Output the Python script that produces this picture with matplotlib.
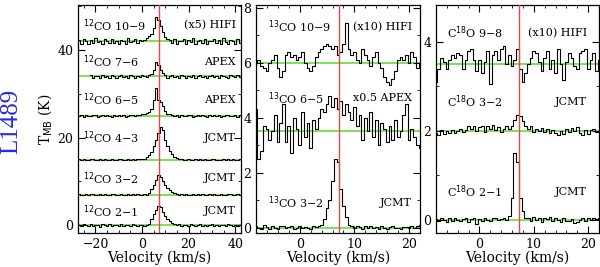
import numpy as np
import matplotlib
matplotlib.use('Agg')
import matplotlib.pyplot as plt
from matplotlib.ticker import MultipleLocator

plt.rcParams['font.family'] = 'DejaVu Serif'

v_lsr = 7.2

# ---- panel 1: 12CO, 1 km/s channels from -27 to 42 ----
vel_12co = np.arange(-27, 43, 1.0)
co_21 = [0.1, -0.2, 0.2, 0.0, -0.1, 0.3, -0.2, 0.1, 0.0, -0.3,
         0.2, 0.1, -0.1, 0.2, -0.2, 0.0, 0.1, -0.1, 0.2, -0.2,
         0.1, 0.0, -0.1, 0.2, 0.1, -0.2, 0.0, 0.1, -0.1, 0.1,
         0.3, 1.5, 2.5, 3.4, 4.4, 4.2, 3.0, 2.0, 1.4, 0.9,
         0.5, 0.3, 0.1, 0.2,
         -0.1, 0.1, 0.0, -0.2, 0.2, 0.1, -0.1, 0.0, 0.2, -0.2,
         0.1, -0.1, 0.0, 0.2, -0.1, 0.1, -0.2, 0.0, 0.1, -0.1,
         0.2, 0.0, -0.2, 0.1, -0.1, 0.1]
co_32 = [0.2, -0.1, 0.0, 0.1, -0.2, 0.1, 0.2, -0.1, 0.0, 0.1,
         -0.2, 0.2, 0.0, -0.1, 0.1, 0.2, -0.2, 0.0, 0.1, -0.1,
         0.0, 0.2, -0.1, 0.1, -0.2, 0.1, 0.0, -0.1, 0.2, 0.0,
         0.3, 1.2, 2.2, 3.3, 4.4, 4.0, 3.0, 2.1, 1.5, 1.0,
         0.6, 0.3, 0.2, 0.0,
         0.1, -0.1, 0.2, 0.0, -0.2, 0.1, 0.0, 0.2, -0.1, 0.1,
         -0.2, 0.0, 0.1, -0.1, 0.2, 0.0, -0.1, 0.1, 0.0, -0.2,
         0.1, 0.2, -0.1, 0.0, 0.1, -0.1]
co_43 = [0.1, -0.2, 0.2, 0.0, -0.1, 0.1, 0.2, -0.2, 0.0, 0.1,
         -0.1, 0.2, 0.0, -0.2, 0.1, 0.0, -0.1, 0.2, 0.1, -0.1,
         0.0, 0.2, -0.2, 0.1, 0.0, 0.1, 0.2, 0.1,
         0.2, 0.5, 1.0, 1.8, 3.0, 4.5, 6.0, 7.5, 6.8, 4.5,
         3.0, 2.0, 1.2, 0.7, 0.4, 0.2,
         0.1, 0.0, -0.1, 0.2, 0.0, -0.2, 0.1, 0.0, 0.2, -0.1,
         0.1, -0.2, 0.0, 0.1, 0.2, -0.1, 0.0, -0.2, 0.1, 0.0,
         0.2, -0.1, 0.1, 0.0, -0.2, 0.1]
co_65 = [0.0, 0.2, -0.2, 0.1, 0.0, -0.1, 0.2, 0.1, -0.2, 0.0,
         0.1, -0.1, 0.2, 0.0, -0.2, 0.1, 0.0, 0.2, -0.1, 0.1,
         -0.2, 0.0, 0.1, 0.2, -0.1, 0.1, 0.2,
         0.3, 0.4, 0.6, 0.9, 1.5, 3.5, 6.3, 3.6, 3.2, 2.2,
         1.0, 0.5, 0.3, 0.2,
         0.0, 0.1, -0.2, 0.2, 0.0, -0.1, 0.1, 0.2, -0.2, 0.0,
         0.1, -0.1, 0.2, 0.0, -0.2, 0.1, 0.0, 0.2, -0.1, 0.1,
         -0.2, 0.0, 0.2, 0.1, -0.1, 0.0, 0.2, -0.2, 0.1]
co_76 = [np.nan] * 5 + [
         0.3, -0.4, 0.2, 0.0, -0.3, 0.4, -0.2, 0.1, -0.4, 0.3,
         0.0, -0.3, 0.2, 0.4, -0.2, 0.0, -0.4, 0.3, 0.1, -0.3,
         0.2, -0.1, 0.4, 0.0, -0.2, 0.3,
         0.5, 1.5, 3.3, 2.5, 1.5, 0.8, 0.4,
         -0.3, 0.2, 0.4, -0.2, 0.0, -0.4, 0.3, 0.1, -0.3, 0.2,
         -0.1, 0.4, -0.4, 0.0, 0.3, -0.2, 0.2, -0.3, 0.1, 0.4,
         -0.2, 0.0, -0.4, 0.3, 0.2, -0.1, -0.3, 0.4, 0.0, -0.2,
         0.3, -0.1]
co_109 = [0.3, -0.5, 0.6, 0.0, -0.7, 0.4, -0.3, 0.7, -0.2, 0.1,
          -0.6, 0.5, 0.0, -0.4, 0.6, -0.3, 0.2, -0.6, 0.4, 0.1,
          -0.5, 0.7, -0.2, 0.0, 0.5, -0.4, 0.3, 0.1, 0.4,
          0.8, 1.2, 1.6, 3.0, 5.5, 4.8, 3.5, 2.2, 1.0, 0.5, 0.3,
          -0.4, 0.5, -0.6, 0.2, 0.0, 0.6, -0.5, 0.3, -0.2, 0.7,
          -0.6, 0.1, 0.4, -0.3, 0.5, -0.7, 0.2, 0.0, 0.6, -0.4,
          0.3, -0.5, 0.7, -0.1, -0.6, 0.4, 0.2, -0.5, 0.6, -0.3]
spec_12co = [co_21, co_32, co_43, co_65, co_76, co_109]
base_12co = [0, 7, 15, 25, 34, 42]
names_12co = ['2-1', '3-2', '4-3', '6-5', '7-6', '10-9']
tel_12co = ['JCMT', 'JCMT', 'JCMT', 'APEX', 'APEX', '(x5) HIFI']
laby_12co = [3.2, 10.7, 19.9, 28.6, 37.3, 45.7]

# ---- panel 2 and 3: 0.5 km/s channels from -8 to 22 ----
vel_iso = np.arange(-8, 22.25, 0.5)
c13_109 = [0.0, 0.1, -0.1, -0.2, -0.3, 0.0, 0.1, 0.3, -0.2, -0.5,
           -0.3, 0.3, 0.4, 0.2, 0.3, 0.1, 0.2, 0.4, 0.0, -0.2,
           -0.3, -0.1, 0.2, 0.4, 0.5, 0.6, 0.7, 0.6, 0.5, 0.6,
           0.3, 0.4, 0.7, 1.45, 0.5, 0.3, 0.4, 0.1, 0.0, 0.5,
           0.3, 0.1, -0.1, 0.2, 0.4, 0.0, -0.2, -0.5, -0.7, -0.8,
           -0.6, -0.3, 0.1, 0.2, 0.1, 0.3, 0.0, 0.4, 0.2, -0.2,
           0.0]
c13_65 = [0.8, -1.0, -0.7, 0.2, 0.1, -0.3, 0.0, 0.6, -0.4, 0.3,
          1.0, -0.4, 0.2, -0.8, 0.5, 0.1, -0.5, 0.7, -0.2, 0.3,
          -0.6, 0.4, 0.1, 0.5, 0.8, 0.7, 1.0, 1.3, 0.9, 1.2,
          0.8, 1.1, 0.6, 1.0, 0.7, 0.4, 0.9, 0.2, 0.6, -0.3,
          0.5, 0.0, 0.7, -0.2, 0.4, -0.5, 0.3, 0.1, -0.4, 0.2,
          -0.3, 0.4, -0.2, 0.0, 0.6, 1.0, -0.3, 0.1, -0.2, -0.5,
          -0.6]
c13_32 = [0.05, 0.0, -0.05, 0.08, 0.02, -0.04, 0.06, 0.0, -0.06, 0.04,
          0.07, -0.03, 0.02, 0.05, -0.05, 0.0, 0.06, -0.02, 0.03, 0.0,
          -0.04, 0.05, 0.02, 0.04,
          0.1, 0.3, 0.7, 1.0, 1.7, 2.5, 2.4, 1.4, 0.8, 0.4, 0.1,
          0.05, -0.03, 0.06, 0.02, -0.05, 0.04, 0.0, 0.07, -0.02, 0.03,
          -0.06, 0.05, 0.0, -0.04, 0.03, 0.06, -0.02, 0.0, -0.05, 0.03,
          0.02, -0.03, 0.04, 0.0, 0.06, 0.08]
spec_13co = [c13_32, c13_65, c13_109]
base_13co = [0, 3.5, 6.0]
names_13co = ['3-2', '6-5', '10-9']
tel_13co = ['JCMT', 'x0.5 APEX', '(x10) HIFI']
laby_13co = [0.9, 4.7, 7.3]

c18_98 = [-0.4, -0.1, 0.15, 0.05, -0.1, 0.1, 0.2, 0.15, 0.25, 0.2,
          -0.1, 0.1, 0.3, 0.35, 0.1, -0.15, 0.1, -0.2, 0.05, 0.3,
          -0.45, 0.2, 0.3, 0.1, 0.35, 0.4, 0.0, 0.2, -0.05, 0.1,
          0.35, -0.1, -0.4, -0.2, 0.0, 0.15, 0.3, 0.25, 0.05, -0.15,
          0.15, 0.3, -0.1, 0.1, -0.2, 0.35, 0.0, -0.35, 0.05, 0.25,
          0.15, -0.05, -0.1, 0.25, 0.3, 0.35, -0.1, 0.1, 0.25, -0.15,
          0.1]
c18_32 = [-0.05, -0.1, 0.02, -0.06, 0.0, -0.04, 0.03, -0.05, 0.0, 0.05,
          -0.03, 0.02, 0.1, 0.05, 0.12, 0.0, 0.08, 0.12, -0.02, 0.1,
          0.05, 0.13, 0.03, 0.08, -0.03, 0.05, 0.1, 0.04, 0.12, 0.25,
          0.35, 0.33, 0.22, 0.12, 0.05, 0.1, -0.02, 0.05, 0.0, 0.06,
          -0.03, 0.04, -0.05, 0.02, -0.04, -0.1, 0.0, -0.08, 0.05, -0.02,
          0.06, 0.0, 0.08, -0.04, -0.1, 0.03, -0.06, 0.02, 0.05, -0.03,
          0.0]
c18_21 = [0.02, -0.03, 0.04, 0.0, -0.04, 0.03, -0.02, 0.05, 0.0, -0.03,
          0.02, 0.04, -0.05, 0.01, 0.03, -0.1, 0.02, -0.02, 0.04, 0.0,
          -0.03, 0.03, 0.05, -0.01, 0.02, 0.04, 0.0,
          0.08, 0.5, 1.5, 1.3, 0.5, 0.2, 0.05,
          0.04, -0.02, 0.06, 0.0, 0.03, -0.04, 0.05, 0.02, 0.06, -0.02,
          0.04, 0.0, -0.05, 0.03, -0.03, -0.02, 0.02, -0.07, -0.04, 0.0,
          0.03, -0.02, 0.04, 0.0, 0.05, 0.02, 0.04]
spec_c18o = [c18_21, c18_32, c18_98]
base_c18o = [0, 2.0, 3.5]
names_c18o = ['2-1', '3-2', '9-8']
tel_c18o = ['JCMT', 'JCMT', '(x10) HIFI']
laby_c18o = [0.63, 2.65, 4.2]

green = '#6fe04a'
red = '#e8474a'
fs = 8.0

fig = plt.figure(figsize=(6.0, 2.67), dpi=100)
ax1 = fig.add_axes([0.130, 0.127, 0.2717, 0.854])
ax2 = fig.add_axes([0.4267, 0.127, 0.2733, 0.854])
ax3 = fig.add_axes([0.7267, 0.127, 0.2717, 0.854])


def draw_panel(ax, vel, spectra, bases, names, tels, laby, mol, xl, xr):
    for spec, b, name, tel, ly in zip(spectra, bases, names, tels, laby):
        ax.axhline(b, color=green, lw=1.3, zorder=1)
        ax.plot(vel, np.array(spec) + b, color='black', lw=0.8,
                drawstyle='steps-mid', zorder=2)
        ax.text(xl, ly, mol + ' ' + name.replace('-', '\u2212'),
                fontsize=fs, ha='left', va='center')
        ax.text(xr, ly, tel, fontsize=fs, ha='right', va='center')
    ax.axvline(v_lsr, color=red, lw=1.0, zorder=3)
    ax.tick_params(which='both', direction='in', top=True, right=True,
                   labelsize=9)
    ax.tick_params(which='major', length=5, width=0.8)
    ax.tick_params(which='minor', length=2.5, width=0.6)
    ax.set_xlabel('Velocity (km/s)', fontsize=10, labelpad=0)
    for s in ax.spines.values():
        s.set_linewidth(0.9)


draw_panel(ax1, vel_12co, spec_12co, base_12co, names_12co, tel_12co,
           laby_12co, '$^{12}$CO', -25.4, 40.3)
ax1.set_xlim(-27.5, 42.5)
ax1.set_ylim(-1.8, 50.3)
ax1.xaxis.set_major_locator(MultipleLocator(20))
ax1.xaxis.set_minor_locator(MultipleLocator(5))
ax1.yaxis.set_major_locator(MultipleLocator(20))
ax1.yaxis.set_minor_locator(MultipleLocator(10))
ax1.set_ylabel('T$_{\\rm MB}$ (K)', fontsize=10, labelpad=2)

draw_panel(ax2, vel_iso, spec_13co, base_13co, names_13co, tel_13co,
           laby_13co, '$^{13}$CO', -5.8, 20.5)
ax2.set_xlim(-8, 22)
ax2.set_ylim(-0.2, 8.1)
ax2.xaxis.set_major_locator(MultipleLocator(10))
ax2.xaxis.set_minor_locator(MultipleLocator(2))
ax2.yaxis.set_major_locator(MultipleLocator(2))
ax2.yaxis.set_minor_locator(MultipleLocator(1))

draw_panel(ax3, vel_iso, spec_c18o, base_c18o, names_c18o, tel_c18o,
           laby_c18o, 'C$^{18}$O', -6.0, 19.8)
ax3.set_xlim(-8, 22)
ax3.set_ylim(-0.3, 4.83)
ax3.xaxis.set_major_locator(MultipleLocator(10))
ax3.xaxis.set_minor_locator(MultipleLocator(2))
ax3.yaxis.set_major_locator(MultipleLocator(2))
ax3.yaxis.set_minor_locator(MultipleLocator(1))

fig.text(0.019, 0.547, 'L1489', rotation=90, color='#2a2ae0',
         fontsize=18, family='Liberation Serif', ha='center', va='center')

fig.savefig('out.png', dpi=100)
